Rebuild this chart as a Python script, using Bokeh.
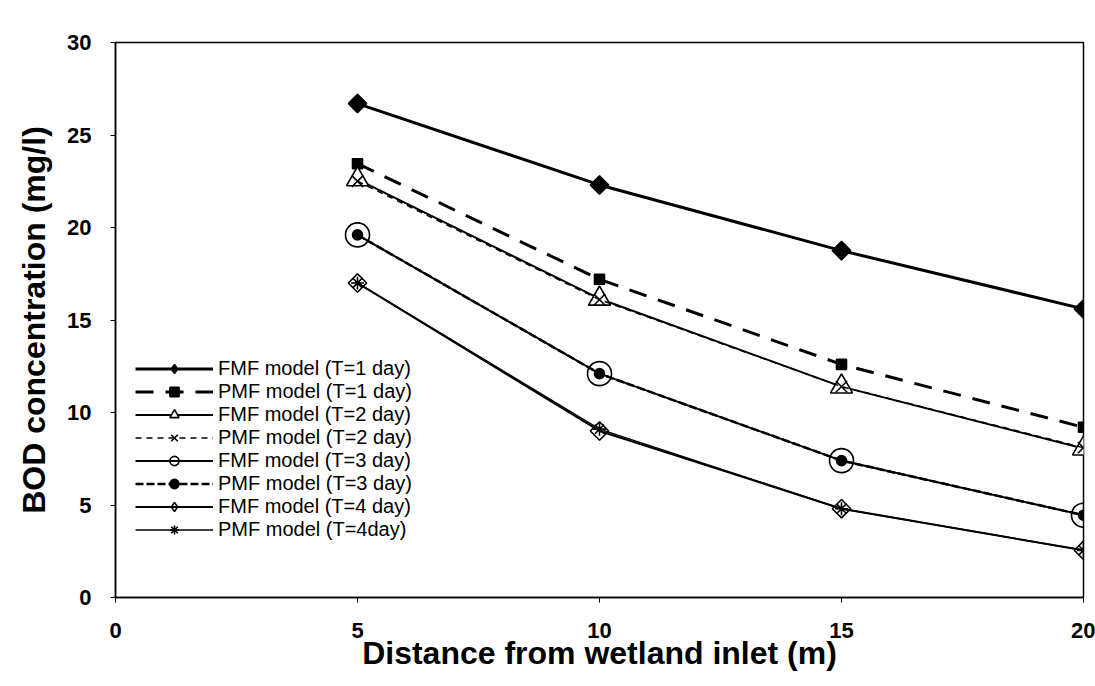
import math
from bokeh.plotting import figure
from bokeh.models import Range1d, Legend, LegendItem, FixedTicker
from bokeh.embed import file_html
from bokeh.resources import INLINE

distance = [5, 10, 15, 20]
fmf_t1 = [26.7, 22.3, 18.75, 15.6]
pmf_t1 = [23.45, 17.2, 12.6, 9.2]
fmf_t2 = [22.6, 16.15, 11.4, 8.05]
pmf_t2 = [22.5, 16.1, 11.4, 8.1]
fmf_t3 = [19.6, 12.1, 7.4, 4.45]
pmf_t3 = [19.6, 12.1, 7.4, 4.45]
fmf_t4 = [17.0, 9.0, 4.8, 2.55]
pmf_t4 = [17.0, 9.1, 4.8, 2.55]
labels = ["FMF model (T=1 day)", "PMF model (T=1 day)", "FMF model (T=2 day)",
          "PMF model (T=2 day)", "FMF model (T=3 day)", "PMF model (T=3 day)",
          "FMF model (T=4 day)", "PMF model (T=4day)"]
x_ticks = [0, 5, 10, 15, 20]
y_ticks = [0, 5, 10, 15, 20, 25, 30]

FONT = "Liberation Sans"
p = figure(width=1095, height=686, output_backend="svg", toolbar_location=None,
           x_range=Range1d(0, 20), y_range=Range1d(0, 30),
           min_border_left=115, min_border_top=42, min_border_right=12, min_border_bottom=89)
p.grid.visible = False
p.outline_line_color = "black"
p.outline_line_width = 1.5
p.background_fill_color = "white"

for ax in (p.xaxis[0], p.yaxis[0]):
    ax.axis_line_color = "black"
    ax.axis_line_width = 1.5
    ax.major_tick_line_color = "black"
    ax.major_tick_in = 0
    ax.major_tick_out = 5
    ax.minor_tick_line_color = None
    ax.major_label_text_font = FONT
    ax.major_label_text_font_style = "bold"
    ax.major_label_text_font_size = "22px"
    ax.major_label_text_color = "black"
    ax.axis_label_text_font = FONT
    ax.axis_label_text_font_style = "bold"
    ax.axis_label_text_font_size = "32px"
    ax.axis_label_text_color = "black"

p.xaxis.ticker = FixedTicker(ticks=x_ticks)
p.yaxis.ticker = FixedTicker(ticks=y_ticks)
p.xaxis.axis_label = "Distance from wetland inlet (m)"
p.yaxis.axis_label = "BOD concentration (mg/l)"
p.xaxis.major_label_standoff = 20
p.xaxis.axis_label_standoff = -6
p.yaxis.major_label_standoff = 19
p.yaxis.axis_label_standoff = 12

items = []

def series(ys, label, dash, lw, marker, size, fill, angle=0.0, legend_marker=None):
    r_line = p.line(distance, ys, line_color="black", line_width=lw, line_dash=dash)
    r_mark = p.scatter(distance, ys, marker=marker, size=size, line_color="black",
                       line_width=1.6, fill_color=fill, angle=angle)
    rs = [r_line, r_mark]
    if legend_marker is not None:
        # hidden twin used only for the legend (legend glyphs ignore rotation)
        r_leg = p.scatter(distance, ys, marker=legend_marker, size=size,
                          line_color="black", line_width=1.6, fill_color=fill,
                          visible=False)
        rs = [r_line, r_leg]
    items.append(LegendItem(label=label, renderers=rs))

series(fmf_t1, labels[0], "solid", 3, "square", 13, "black", math.pi / 4, "diamond")
series(pmf_t1, labels[1], "18 12", 3, "square", 10, "black")
series(fmf_t2, labels[2], "solid", 2, "triangle", 22, "white")
series(pmf_t2, labels[3], "6 5", 1.5, "x", 16, None)
series(fmf_t3, labels[4], "solid", 2, "circle", 24, None)
series(pmf_t3, labels[5], "8 3", 2.5, "circle", 10, "black")
series(fmf_t4, labels[6], "solid", 2, "square", 13, None, math.pi / 4, "diamond")
series(pmf_t4, labels[7], "solid", 1.5, "asterisk", 13, None)

legend = Legend(items=items, location=(20, 56), padding=0, margin=0, spacing=0,
                glyph_width=78, glyph_height=23, label_height=23,
                label_text_font=FONT, label_text_font_size="20px",
                label_text_color="black",
                label_standoff=5, border_line_color=None,
                background_fill_alpha=0)
p.add_layout(legend, "center")

open("out.html", "w").write(file_html(p, INLINE))
